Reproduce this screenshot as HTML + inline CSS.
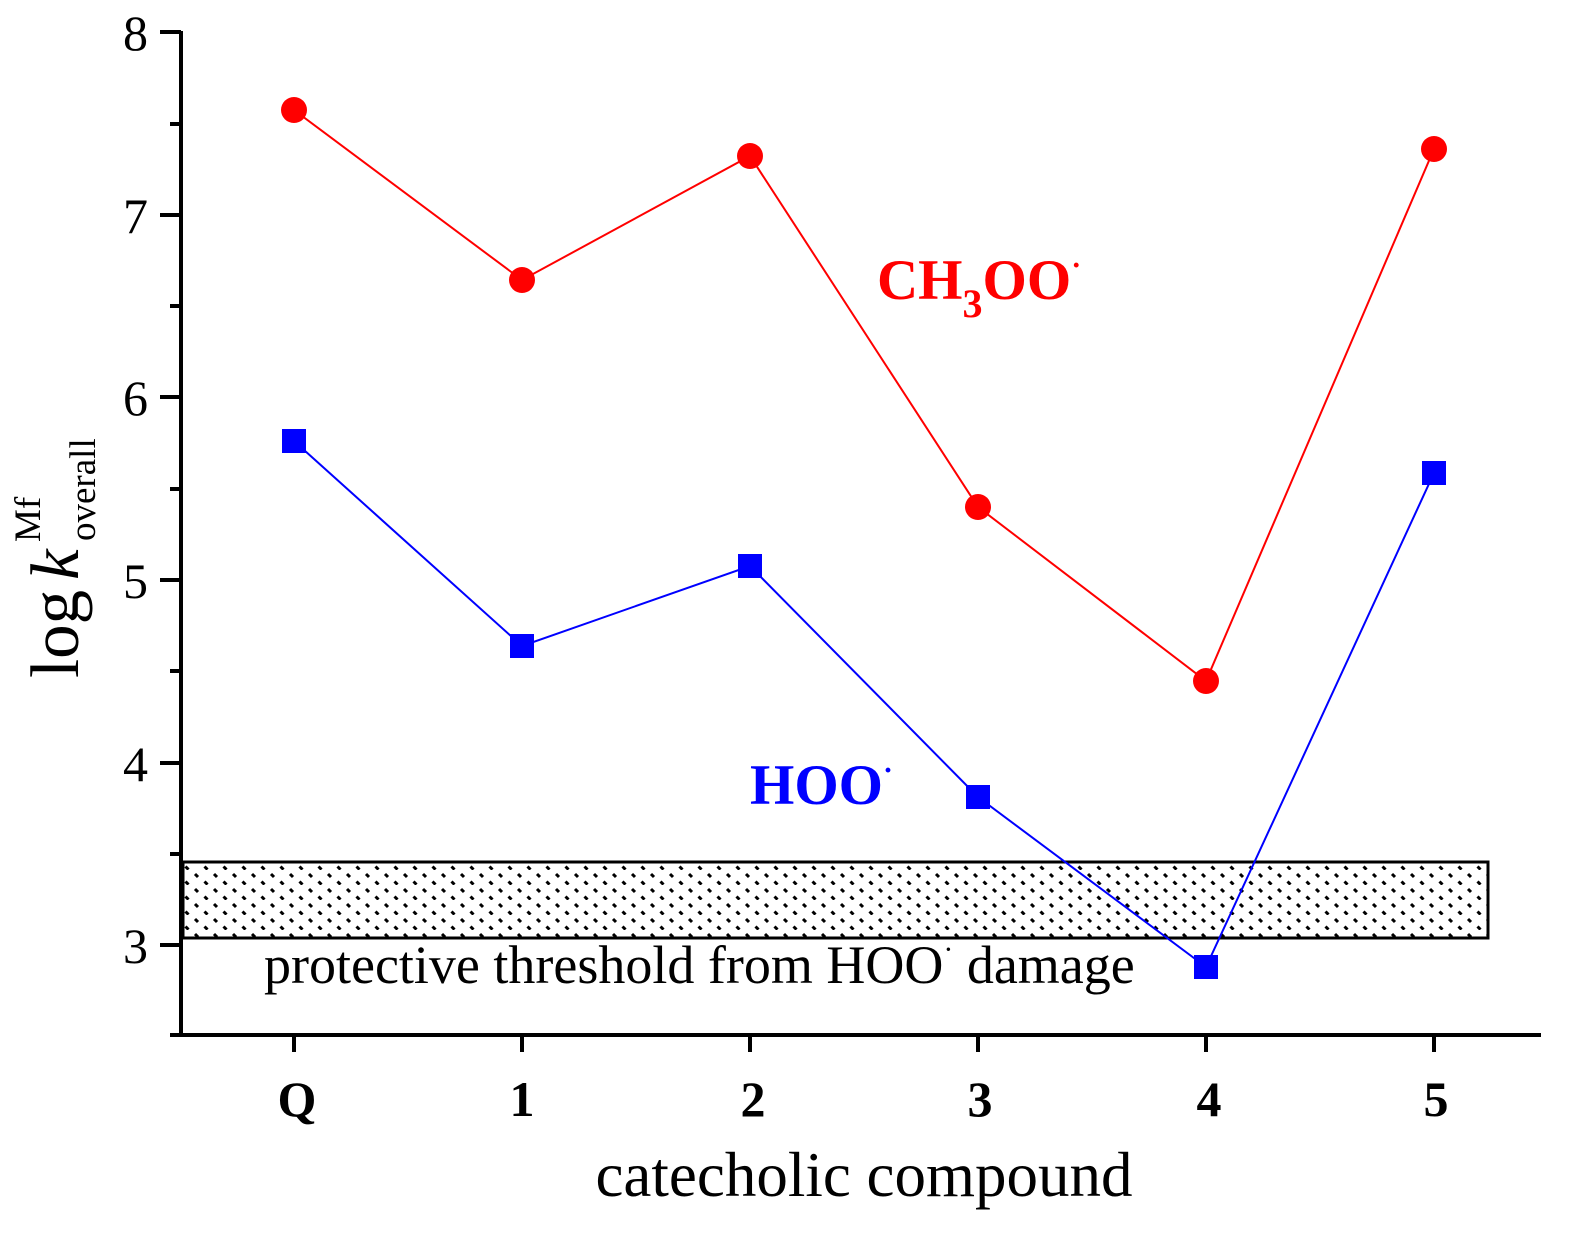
<!DOCTYPE html>
<html><head><meta charset="utf-8"><style>html,body{margin:0;padding:0;background:#fff}</style></head>
<body>
<svg width="1590" height="1240" viewBox="0 0 1590 1240" xmlns="http://www.w3.org/2000/svg" font-family="Liberation Serif, serif">
<defs>
<pattern id="dots" width="19" height="15" patternUnits="userSpaceOnUse">
<line x1="5" y1="4" x2="8" y2="7" stroke="#000" stroke-width="3"/>
<line x1="14.5" y1="11.5" x2="17.5" y2="14.5" stroke="#000" stroke-width="3"/>
</pattern>
</defs>
<rect x="183" y="862" width="1305" height="76" fill="url(#dots)" stroke="#000" stroke-width="3"/>
<line x1="181" y1="31" x2="181" y2="1036" stroke="#000" stroke-width="4"/>
<line x1="179" y1="1035" x2="1541" y2="1035" stroke="#000" stroke-width="4"/>
<g stroke="#000" stroke-width="4">
<line x1="160" y1="32" x2="181" y2="32"/><line x1="160" y1="215" x2="181" y2="215"/>
<line x1="160" y1="397" x2="181" y2="397"/><line x1="160" y1="580" x2="181" y2="580"/>
<line x1="160" y1="763" x2="181" y2="763"/><line x1="160" y1="945" x2="181" y2="945"/>
<line x1="170" y1="124" x2="181" y2="124"/><line x1="170" y1="306" x2="181" y2="306"/>
<line x1="170" y1="489" x2="181" y2="489"/><line x1="170" y1="671" x2="181" y2="671"/>
<line x1="170" y1="854" x2="181" y2="854"/><line x1="170" y1="1035" x2="181" y2="1035"/>
<line x1="294" y1="1035" x2="294" y2="1052"/><line x1="522" y1="1035" x2="522" y2="1052"/>
<line x1="750" y1="1035" x2="750" y2="1052"/><line x1="978" y1="1035" x2="978" y2="1052"/>
<line x1="1206" y1="1035" x2="1206" y2="1052"/><line x1="1434" y1="1035" x2="1434" y2="1052"/>
</g>
<g font-size="50" text-anchor="end">
<text x="148" y="50">8</text><text x="148" y="233">7</text><text x="148" y="415">6</text>
<text x="148" y="598">5</text><text x="148" y="781">4</text><text x="148" y="963">3</text>
</g>
<g font-size="50" font-weight="bold" text-anchor="middle">
<text x="297" y="1116">Q</text><text x="522" y="1116">1</text><text x="753" y="1116">2</text>
<text x="980" y="1116">3</text><text x="1209" y="1116">4</text><text x="1436" y="1116">5</text>
</g>
<text x="864" y="1196" font-size="63" text-anchor="middle">catecholic compound</text>
<g transform="translate(78,678) rotate(-90)">
<text x="0" y="0" font-size="69">log</text>
<text x="98" y="0" font-size="69" font-style="italic">k</text>
<text x="137" y="17" font-size="37">overall</text>
<text x="136" y="-38" font-size="37">Mf</text>
</g>
<text x="264" y="983" font-size="54">protective threshold from HOO<tspan font-size="30" dy="-24">·</tspan><tspan dy="24"> damage</tspan></text>
<polyline points="294,110 522,280 750,156 978,507 1206,681 1434,149" fill="none" stroke="#f00" stroke-width="2"/>
<g fill="#f00">
<circle cx="294" cy="110" r="13"/><circle cx="522" cy="280" r="13"/><circle cx="750" cy="156" r="13"/>
<circle cx="978" cy="507" r="13"/><circle cx="1206" cy="681" r="13"/><circle cx="1434" cy="149" r="13"/>
</g>
<polyline points="294,441 522,646 750,566 978,797 1206,967 1434,473" fill="none" stroke="#00f" stroke-width="2"/>
<g fill="#00f">
<rect x="282" y="429" width="24" height="24"/><rect x="510" y="634" width="24" height="24"/>
<rect x="738" y="554" width="24" height="24"/><rect x="966" y="785" width="24" height="24"/>
<rect x="1194" y="955" width="24" height="24"/><rect x="1422" y="461" width="24" height="24"/>
</g>
<text x="877" y="299" font-size="57" font-weight="bold" fill="#f00">CH<tspan font-size="40" dy="18">3</tspan><tspan dy="-18">OO</tspan><tspan font-size="30" dy="-24">·</tspan></text>
<text x="750" y="804" font-size="57" font-weight="bold" fill="#00f">HOO<tspan font-size="30" dy="-24">·</tspan></text>
</svg>
</body></html>
